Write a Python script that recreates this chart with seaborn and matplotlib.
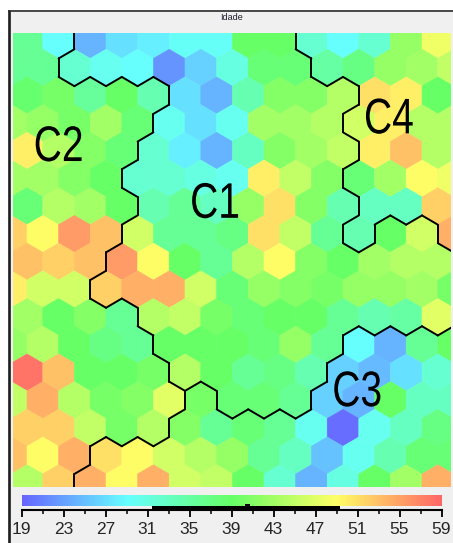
import numpy as np
import matplotlib
matplotlib.use("Agg")
import matplotlib.pyplot as plt
import seaborn as sns
from matplotlib.collections import PolyCollection, LineCollection
from matplotlib.colors import LinearSegmentedColormap, Normalize, hsv_to_rgb
from matplotlib.patches import Rectangle
from matplotlib.ticker import FixedLocator
from matplotlib.patheffects import AbstractPathEffect
from matplotlib.transforms import Affine2D

sns.set_style("white")
plt.rcParams['font.family'] = ['Liberation Sans', 'DejaVu Sans']

# ---------------- data ----------------
title = "Idade"

# SOM component plane values, one list per hex row (even rows 14 cells, odd rows 15)
idade_rows = [
    [36, 29, 24, 27, 28, 29.5, 29.5, 39, 39, 32, 29, 32, 42, 48],
    [36, 36, 32, 30, 29, 22, 26, 31, 38, 38, 35, 37, 42, 43, 45],
    [38.5, 40, 35.5, 39, 34, 27, 24, 34, 41, 41, 44, 51, 50, 39],
    [43, 42, 40, 43, 38, 30, 27, 30, 43, 43, 44, 46, 50, 44, 44],
    [50, 44, 41, 38, 32, 28, 24, 33, 41, 43, 45, 50, 53, 44],
    [43, 43, 41, 39, 32, 32, 31, 30, 50, 45, 41, 38, 43, 49, 48],
    [38, 44, 43, 39, 34, 36, 33, 42, 51, 41, 34, 33, 33, 52],
    [52, 49, 55.5, 53, 46, 36, 36, 37, 51, 45, 36, 34, 39, 46, 54],
    [53, 52, 53, 55.5, 49, 39, 36, 44, 49, 41, 39, 43, 44, 44],
    [50, 46, 46, 52, 54, 54, 46, 38, 42, 41, 40, 42, 42, 43, 40],
    [43, 39, 41, 36, 44, 45, 40, 38, 39, 39, 36, 34, 35, 47],
    [42, 44, 39, 37, 36, 39, 39, 39, 38, 42, 36, 29, 24, 36, 39],
    [58, 53, 39, 39, 40, 44, 39, 36, 37, 34, 26, 24.5, 27, 32],
    [45, 54, 44, 40, 41, 47, 40, 38, 38, 36, 26, 24, 39, 33, 33],
    [52, 52, 45, 40, 44, 41, 36, 38, 36, 30, 19.5, 30, 33, 37],
    [53, 49, 54, 51, 49, 46, 44, 42, 36, 33, 25, 30, 34, 38, 38],
    [44, 52, 54, 49, 54, 46, 45, 39, 32, 24, 31, 39, 43, 54],
]

# cluster membership of every hex, same layout as idade_rows
cluster_rows = [
    "22111111144444",
    "221111111144444",
    "22222111111444",
    "222221111114444",
    "22221111111444",
    "222211111114444",
    "22221111111444",
    "222211111114114",
    "22211111111111",
    "222111111111111",
    "22221111111111",
    "222221111113333",
    "22222111113333",
    "222222311133333",
    "22222333333333",
    "222333333333333",
    "22333333333333",
]

cluster_labels = ["C1", "C2", "C3", "C4"]
label_col = [5.95, 1.0, 10.45, 11.45]
label_row = [5.95, 3.9, 12.75, 2.9]

scale_min, scale_max = 19, 59
tick_values = [19, 23, 27, 31, 35, 39, 43, 47, 51, 55, 59]
range_low, range_high, range_mark = 31.4, 49.3, 40.5

# ---------------- styling helpers ----------------
W, H = 453, 543
fig = plt.figure(figsize=(W / 100, H / 100), dpi=100)
fig.patch.set_facecolor("white")


def px_axes(x0, y0, x1, y1):
    return fig.add_axes([x0 / W, 1 - y1 / H, (x1 - x0) / W, (y1 - y0) / H])


class Narrow(AbstractPathEffect):
    """Draw the text horizontally condensed around its centre."""

    def __init__(self, sx=0.8):
        super().__init__()
        self.sx = sx

    def draw_path(self, renderer, gc, tpath, affine, rgbFace=None):
        ext = tpath.get_extents(affine)
        cx = 0.5 * (ext.x0 + ext.x1)
        t = affine + Affine2D().translate(-cx, 0).scale(self.sx, 1).translate(cx, 0)
        renderer.draw_path(gc, tpath, t, rgbFace)


# pastel rainbow colormap (hue 240 -> 0, saturation 0.6)
hues = np.linspace(240, 0, 13) / 360.0
stops = [hsv_to_rgb((h, 0.6, 1.0)) for h in hues]
cmap = LinearSegmentedColormap.from_list("pastel_jet", stops)
norm = Normalize(vmin=scale_min, vmax=scale_max)

# window background and frame
bg = px_axes(0, 0, W, H)
bg.set_xlim(0, W)
bg.set_ylim(H, 0)
bg.axis("off")
bg.add_patch(Rectangle((8, 10), W, H, facecolor="#f0f0f0", edgecolor="none"))
bg.plot([8.6, 8.6], [10, H], color="#1e1e1e", lw=1.9, solid_capstyle="butt")
bg.plot([8, W], [10.8, 10.8], color="#2a2a2a", lw=1.2, solid_capstyle="butt")

fig.text(232 / W, 1 - 18 / H, title, fontsize=6.5, ha="center", va="center",
         color="#202030")

# ---------------- hex map ----------------
ax = px_axes(13, 33, 450.5, 486.5)
ax.set_xlim((13 - 27) / 31.6, (450.5 - 27) / 31.6)
ax.set_ylim((486.5 - 40) / 27.7, (33 - 40) / 27.7)
ax.axis("off")

verts, vals, labs = [], [], []
for r, row in enumerate(idade_rows):
    for c, v in enumerate(row):
        cx = c - 0.5 * (r % 2)
        cy = r
        hv = [(cx, cy - 2 / 3), (cx + 0.5, cy - 1 / 3), (cx + 0.5, cy + 1 / 3),
              (cx, cy + 2 / 3), (cx - 0.5, cy + 1 / 3), (cx - 0.5, cy - 1 / 3)]
        verts.append(hv)
        vals.append(v)
        labs.append(cluster_rows[r][c])

pc = PolyCollection(verts, array=np.array(vals), cmap=cmap, norm=norm,
                    edgecolors="face", linewidths=0.4)
ax.add_collection(pc)

# cluster borders: shared hex edges whose two cells belong to different clusters
edges = {}
for i, hv in enumerate(verts):
    for k in range(6):
        a, b = hv[k], hv[(k + 1) % 6]
        ka = (round(a[0] * 2), round(a[1] * 3))
        kb = (round(b[0] * 2), round(b[1] * 3))
        key = tuple(sorted([ka, kb]))
        edges.setdefault(key, {"seg": (a, b), "cells": []})["cells"].append(i)

segs = []
for e in edges.values():
    if len(e["cells"]) == 2:
        i, j = e["cells"]
        if labs[i] != labs[j]:
            segs.append(e["seg"])
ax.add_collection(LineCollection(segs, colors="black", linewidths=1.4,
                                 capstyle="round", joinstyle="round"))

for name, cx, cy in zip(cluster_labels, label_col, label_row):
    ax.text(cx, cy, name, fontsize=36, ha="center", va="center", color="black",
            path_effects=[Narrow(0.78)])

# ---------------- colour scale ----------------
cax = px_axes(21.5, 494.5, 441.5, 510)
cax.set_facecolor("none")
grad = np.linspace(scale_min, scale_max, 400).reshape(1, -1)
cax.imshow(grad, cmap=cmap, norm=norm, aspect="auto",
           extent=(scale_min, scale_max, 506, 494.5))
cax.set_xlim(scale_min, scale_max)
cax.set_ylim(510, 494.5)
cax.fill_between([range_low, range_high], 506.2, 510, color="black", lw=0)
cax.fill_between([range_mark - 0.25, range_mark + 0.25], 504, 506.5,
                 color="black", lw=0)
for s in ["top", "left", "right"]:
    cax.spines[s].set_visible(False)
cax.spines["bottom"].set_color("black")
cax.spines["bottom"].set_linewidth(1.5)
cax.set_yticks([])
cax.xaxis.set_major_locator(FixedLocator(tick_values))
cax.xaxis.set_minor_locator(FixedLocator([t + 2 for t in tick_values[:-1]]))
cax.set_xticklabels([str(t) for t in tick_values])
cax.tick_params(axis="x", which="major", direction="out", length=5, width=1.3,
                color="black", labelsize=12.5, pad=4, bottom=True)
cax.tick_params(axis="x", which="minor", direction="out", length=2.8, width=1.1,
                color="black", bottom=True)

fig.savefig("out.png", dpi=100, facecolor=fig.get_facecolor())
